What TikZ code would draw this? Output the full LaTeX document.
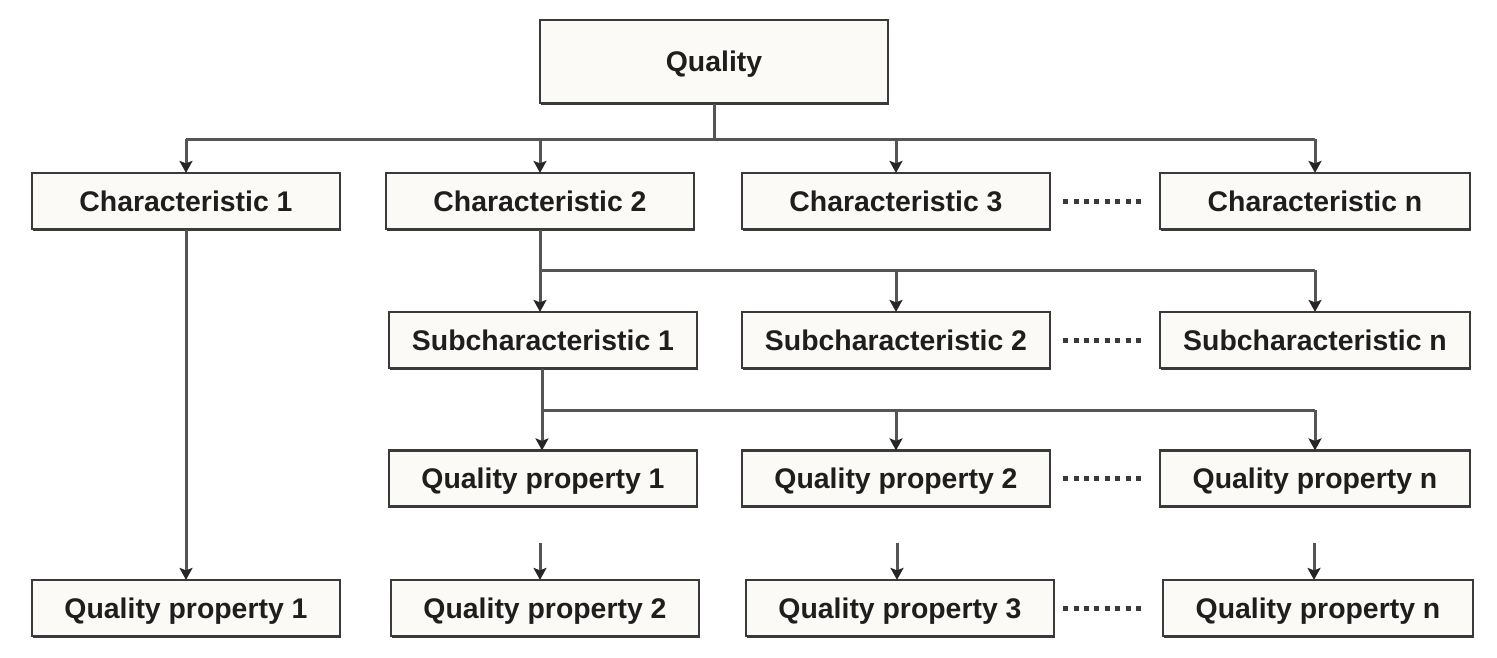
\documentclass[tikz,border=0pt]{standalone}
\usepackage{fontspec}
\setmainfont{Liberation Sans}
\usetikzlibrary{arrows.meta,shadows}
\definecolor{boxfill}{HTML}{FBFAF6}
\definecolor{boxline}{HTML}{3A3A3A}
\definecolor{conline}{HTML}{555555}
\definecolor{tipcol}{HTML}{262626}
\definecolor{txt}{HTML}{1E1E1E}
\begin{document}
\begin{tikzpicture}[x=1pt,y=-1pt,
  box/.style={draw=boxline, line width=2.2pt, fill=boxfill, inner sep=0pt,
    minimum width=308pt, minimum height=56pt, text=txt,
    text height=20pt, text depth=0pt,
    general shadow={fill=boxline, shadow xshift=1.3pt, shadow yshift=-1.6pt},
    font=\fontsize{28.4}{30}\selectfont\bfseries},
  conn/.style={draw=conline, line width=3pt},
  arr/.style={conn, -{Stealth[length=12pt,width=13pt,inset=2.5pt,color=tipcol]}, shorten >=-1pt},
  dots/.style={draw=boxline, line width=5pt, dash pattern=on 5pt off 5.4pt}]
\useasboundingbox (0,0) rectangle (1497,657);
% nodes
\node[box, minimum width=348pt, minimum height=83pt] (q) at (714,61.5) {Quality};
\node[box] (c1) at (186,201) {Characteristic 1};
\node[box] (c2) at (540,201) {Characteristic 2};
\node[box] (c3) at (896,201) {Characteristic 3};
\node[box, minimum width=310pt] (cn) at (1315,201) {Characteristic n};
\node[box] (s1) at (543,340) {Subcharacteristic 1};
\node[box] (s2) at (896,340) {Subcharacteristic 2};
\node[box, minimum width=310pt] (sn) at (1315,340) {Subcharacteristic n};
\node[box] (p1) at (543,478.5) {Quality property 1};
\node[box] (p2) at (896,478.5) {Quality property 2};
\node[box, minimum width=310pt] (pn) at (1315,478.5) {Quality property n};
\node[box] (r1) at (186,608) {Quality property 1};
\node[box] (r2) at (545,608) {Quality property 2};
\node[box] (r3) at (900,608) {Quality property 3};
\node[box, minimum width=310pt] (rn) at (1318,608) {Quality property n};
% buses
\coordinate (b1) at (714,139);
\coordinate (b2) at (540,270);
\coordinate (b3) at (542,410);
\coordinate (t1) at (540,543);
\coordinate (t2) at (897,543);
\coordinate (t3) at (1314,543);
% level 1
\draw[conn] (q.south) -- (b1);
\draw[conn] (c1.north |- b1) -- (cn.north |- b1);
\foreach \n in {c1,c2,c3,cn} \draw[arr] (\n.north |- b1) -- (\n.north);
% level 2
\draw[conn] (c2.south) -- (b2);
\draw[conn] (b2) -- (sn.north |- b2);
\draw[arr] (b2) -- (s1.north -| b2);
\foreach \n in {s2,sn} \draw[arr] (\n.north |- b2) -- (\n.north);
% level 3
\draw[conn] (s1.south -| b3) -- (b3);
\draw[conn] (b3) -- (pn.north |- b3);
\draw[arr] (b3) -- (p1.north -| b3);
\foreach \n in {p2,pn} \draw[arr] (\n.north |- b3) -- (\n.north);
% level 4
\draw[arr] (c1.south) -- (r1.north);
\draw[arr] (t1) -- (r2.north -| t1);
\draw[arr] (t2) -- (r3.north -| t2);
\draw[arr] (t3) -- (rn.north -| t3);
% dots
\draw[dots] ([xshift=12pt]c3.east) -- ([xshift=-15pt]cn.west);
\draw[dots] ([xshift=12pt]s2.east) -- ([xshift=-15pt]sn.west);
\draw[dots] ([xshift=12pt]p2.east) -- ([xshift=-15pt]pn.west);
\draw[dots] ([xshift=8pt]r3.east) -- ([xshift=-18pt]rn.west);
\end{tikzpicture}
\end{document}
